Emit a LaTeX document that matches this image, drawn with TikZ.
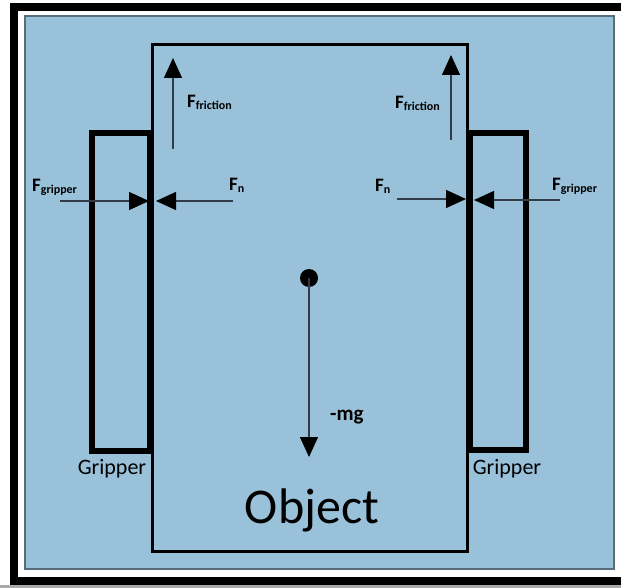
\documentclass[tikz,border=0pt]{standalone}
\usepackage{fontspec}
\setmainfont{Carlito}
\usetikzlibrary{arrows.meta}
\definecolor{bgblue}{RGB}{153,193,217}
\definecolor{bgedge}{RGB}{88,108,122}
\definecolor{shaft}{RGB}{50,60,70}
\definecolor{stripgray}{RGB}{170,170,170}
\newcommand\Fsubtext[1]{F\raisebox{-1.5pt}{\fontsize{12}{12}\selectfont #1}}
\begin{document}
\begin{tikzpicture}[x=1pt,y=-1pt,
  force/.style={draw=shaft, line width=1.2pt, -{Triangle[length=20pt,width=18pt,color=black]}},
  lbl/.style={inner sep=0pt, anchor=base west, font=\fontsize{19}{19}\selectfont\bfseries},
  gripbox/.style={draw=black, line width=6pt, line join=miter, inner sep=0pt, outer sep=0pt},
  grlabel/.style={inner sep=0pt, anchor=base, font=\fontsize{22}{22}\selectfont},
]
\useasboundingbox (0,0) rectangle (621,588);
\fill[white] (0,0) rectangle (621,588);
\fill[stripgray] (0,585) rectangle (621,588);
% outer black frame
\draw[line width=8pt, line join=miter] (630,7) -- (14,7) -- (14,581) -- (630,581);
% blue panel
\draw[bgedge, fill=bgblue, line width=2pt] (25,16) rectangle (614,569);
% object
\node[draw=black, line width=3pt, minimum width=315pt, minimum height=507pt, inner sep=0pt, outer sep=0pt] (obj) at (310,298) {};
% grippers
\node[gripbox, minimum width=58pt, minimum height=317.5pt] (gl) at (121,291.75) {};
\node[gripbox, minimum width=56.5pt, minimum height=316pt] (gr) at (497.75,291.5) {};
% arrow end points
\coordinate (lgs) at (60,201);   \coordinate (lge) at (149,201);
\coordinate (lns) at (233,201);  \coordinate (lne) at (156,201);
\coordinate (rns) at (397,199);  \coordinate (rne) at (466,199);
\coordinate (rgs) at (560,200);  \coordinate (rge) at (474,200);
\coordinate (lfs) at (173,149);  \coordinate (lfe) at (173,58);
\coordinate (rfs) at (451,140);  \coordinate (rfe) at (451,55);
\coordinate (mge) at (309,457);
% centre of gravity
\node[circle, fill=black, minimum size=18pt, inner sep=0pt] (cg) at (309,278) {};
% forces
\draw[force] (lgs) -- (lge);
\draw[force] (lns) -- (lne);
\draw[force] (rns) -- (rne);
\draw[force] (rgs) -- (rge);
\draw[force] (lfs) -- (lfe);
\draw[force] (rfs) -- (rfe);
\draw[force] (cg.center) -- (mge);
% labels
\node[lbl] (tlg) at (32,192) {\Fsubtext{gripper}};
\node[lbl] (tln) at (229,191) {\Fsubtext{n}};
\node[lbl] (trn) at (375,192) {\Fsubtext{n}};
\node[lbl] (trg) at (552,191) {\Fsubtext{gripper}};
\node[lbl] (tlf) at (187,108) {\Fsubtext{friction}};
\node[lbl] (trf) at (395,109) {\Fsubtext{friction}};
\node[lbl, font=\fontsize{21}{21}\selectfont\bfseries] (tmg) at (330,420) {-mg};
\node[grlabel] (tgl) at (112,474) {Gripper};
\node[grlabel] (tgr) at (507,474) {Gripper};
\node[inner sep=0pt, anchor=base, font=\fontsize{50}{50}\selectfont] (tobj) at (312,523) {Object};
\end{tikzpicture}
\end{document}
